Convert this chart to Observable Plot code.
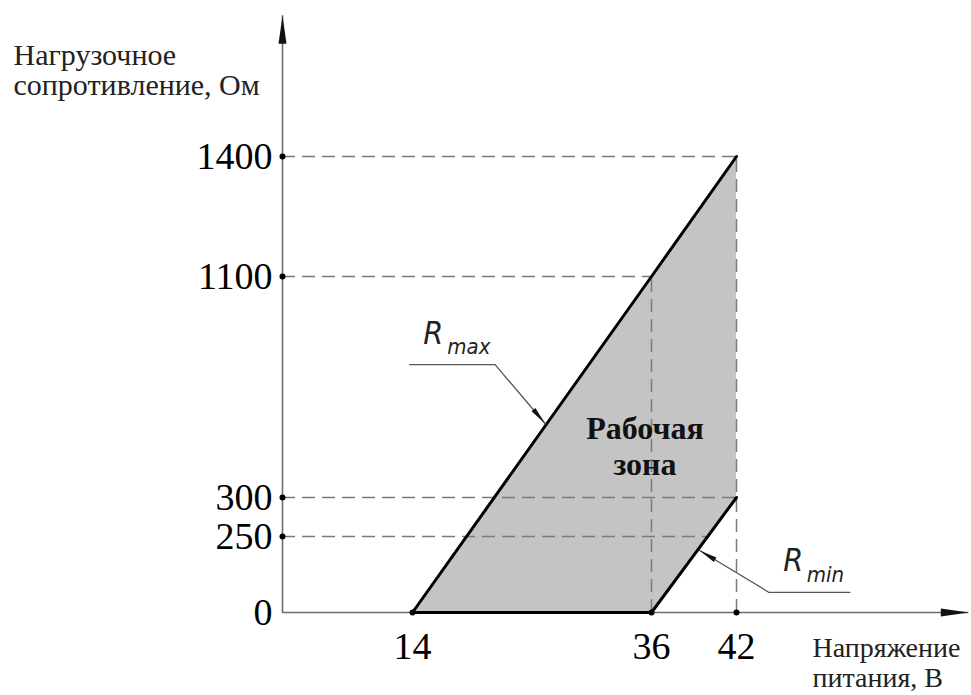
<!DOCTYPE html>
<html>
<head>
<meta charset="utf-8">
<script src="https://cdn.jsdelivr.net/npm/d3@7"></script>
<script src="https://cdn.jsdelivr.net/npm/@observablehq/plot@0.6"></script>
<style>
  html, body { margin: 0; padding: 0; background: #fff; }
  #chart svg { display: block; }
</style>
</head>
<body>
<div id="chart"></div>
<script>
// ---- data (schematic, non-uniform axes) ----
const xBreaks = [0, 14, 36, 42];              // voltage breakpoints of the x scale
const yBreaks = [0, 250, 300, 1100, 1400];    // resistance breakpoints of the y scale
const xTicks = [14, 36, 42];
const yTicks = [0, 250, 300, 1100, 1400];
const xDots = [14, 36, 42];
const yDots = [250, 300, 1100, 1400];
const xAxisEnd = 58.4;
const yAxisEnd = 1752;

const rMaxX = [14, 36, 42];
const rMaxY = [0, 1100, 1400];
const rMinX = [36, 42];
const rMinY = [0, 300];
const baseX = [14, 36];
const baseY = [0, 0];

const zoneX = [14, 36, 42];
const zoneLow = [0, 0, 300];
const zoneHigh = [0, 1100, 1400];

const hGuideY = [1400, 1100, 300, 250];
const hGuideX = [42, 36, 42, 39.9];
const vGuideX = [36, 42];
const vGuideY = [1100, 1400];

const rMaxLeaderX = [13.7, 21.6, 26.2];
const rMaxLeaderY = [781, 781, 568];
const rMinLeaderX = [50, 44.3, 39.4];
const rMinLeaderY = [66, 66, 204];

const zoneLabel = {x: 35.4, y: 383, text: "Рабочая\nзона"};
const rMaxLabel = [{x: 15.0, y: 857, text: "R"}, {x: 17.2, y: 821, text: "max"}];
const rMinLabel = [{x: 45.3, y: 135, text: "R"}, {x: 46.95, y: 99, text: "min"}];

const yTitle = "Нагрузочное\nсопротивление, Ом";
const xTitle = "Напряжение\nпитания, В";

// ---- helpers ----
const pts = (xs, ys) => xs.map((x, i) => ({x, y: ys[i]}));
const arrowSymbol = (len, w) => ({
  draw(ctx) {
    ctx.moveTo(0, 0);
    ctx.lineTo(w / 2, len);
    ctx.lineTo(-w / 2, len);
    ctx.closePath();
  }
});

const serif = "Liberation Serif, Times New Roman, serif";
const gost = "Liberation Sans Narrow, DejaVu Sans Condensed, Liberation Sans, sans-serif";

const chart = Plot.plot({
  width: 971,
  height: 695,
  margin: 0,
  x: {type: "linear", domain: xBreaks, range: [282, 412, 651, 736], axis: null},
  y: {type: "linear", domain: yBreaks, range: [612, 536, 497, 276, 156], axis: null},
  style: {background: "#fff", fontFamily: serif},
  marks: [
    // shaded working zone
    Plot.areaY(zoneX.map((x, i) => ({x, lo: zoneLow[i], hi: zoneHigh[i]})),
      {x: "x", y1: "lo", y2: "hi", fill: "#c4c4c4"}),
    // dashed guides
    Plot.ruleY(hGuideY.map((y, i) => ({y, x2: hGuideX[i]})),
      {y: "y", x1: 0, x2: "x2", stroke: "#7a7a7a", strokeWidth: 1.5, strokeDasharray: "13,7"}),
    Plot.ruleX(vGuideX.map((x, i) => ({x, y2: vGuideY[i]})),
      {x: "x", y1: 0, y2: "y2", stroke: "#7a7a7a", strokeWidth: 1.5, strokeDasharray: "13,7"}),
    // axes lines
    Plot.ruleX([0], {y1: 0, y2: yAxisEnd, stroke: "#6e6e6e", strokeWidth: 1.6}),
    Plot.ruleY([0], {x1: 0, x2: xAxisEnd, stroke: "#6e6e6e", strokeWidth: 1.6}),
    // axis arrowheads
    Plot.dot([{x: 0, y: yAxisEnd}], {x: "x", y: "y", symbol: arrowSymbol(28, 8), fill: "#111", stroke: "none", rotate: 0}),
    Plot.dot([{x: xAxisEnd, y: 0}], {x: "x", y: "y", symbol: arrowSymbol(28, 8), fill: "#111", stroke: "none", rotate: 90}),
    // boundaries
    Plot.line(pts(baseX, baseY), {x: "x", y: "y", stroke: "#000", strokeWidth: 3}),
    Plot.line(pts(rMaxX, rMaxY), {x: "x", y: "y", stroke: "#000", strokeWidth: 3}),
    Plot.line(pts(rMinX, rMinY), {x: "x", y: "y", stroke: "#000", strokeWidth: 3}),
    // tick dots
    Plot.dot(yDots, {x: 0, y: d => d, r: 3, fill: "#000", stroke: "none"}),
    Plot.dot(xDots, {x: d => d, y: 0, r: 3, fill: "#000", stroke: "none"}),
    // tick labels
    Plot.text(yTicks, {x: 0, y: d => d, text: d => String(d), textAnchor: "end", dx: -10,
      fontSize: 38, fontFamily: serif, fill: "#000"}),
    Plot.text(xTicks, {x: d => d, y: 0, text: d => String(d), lineAnchor: "top", dy: 20,
      fontSize: 38, fontFamily: serif, fill: "#000"}),
    // leaders
    Plot.line(pts(rMaxLeaderX, rMaxLeaderY), {x: "x", y: "y", stroke: "#555", strokeWidth: 1.3}),
    Plot.line(pts(rMinLeaderX, rMinLeaderY), {x: "x", y: "y", stroke: "#555", strokeWidth: 1.3}),
    Plot.dot([{x: rMaxLeaderX[2], y: rMaxLeaderY[2]}], {x: "x", y: "y", symbol: arrowSymbol(18, 5), fill: "#111", stroke: "none", rotate: 140}),
    Plot.dot([{x: rMinLeaderX[2], y: rMinLeaderY[2]}], {x: "x", y: "y", symbol: arrowSymbol(18, 5), fill: "#111", stroke: "none", rotate: -59}),
    // R labels
    Plot.text([rMaxLabel[0], rMinLabel[0]], {x: "x", y: "y", text: "text", textAnchor: "start", lineAnchor: "bottom",
      fontSize: 32, fontStyle: "italic", fontFamily: gost, fill: "#222"}),
    Plot.text([rMaxLabel[1], rMinLabel[1]], {x: "x", y: "y", text: "text", textAnchor: "start", lineAnchor: "bottom",
      fontSize: 22, fontStyle: "italic", fontFamily: gost, fill: "#222"}),
    // zone label
    Plot.text([zoneLabel], {x: "x", y: "y", text: "text", textAnchor: "middle", lineAnchor: "bottom",
      lineHeight: 1.1, fontSize: 32, fontWeight: "bold", fontFamily: serif, fill: "#111"}),
    // axis titles
    Plot.text([yTitle], {frameAnchor: "top-left", text: d => d, textAnchor: "start", lineAnchor: "top",
      dx: 13, dy: 43, lineHeight: 1.0, fontSize: 30, fontFamily: serif, fill: "#222"}),
    Plot.text([xTitle], {frameAnchor: "top-left", text: d => d, textAnchor: "start", lineAnchor: "top",
      dx: 812, dy: 636, lineHeight: 1.05, fontSize: 28, fontFamily: serif, fill: "#222"})
  ]
});
document.getElementById("chart").appendChild(chart);
</script>
</body>
</html>
